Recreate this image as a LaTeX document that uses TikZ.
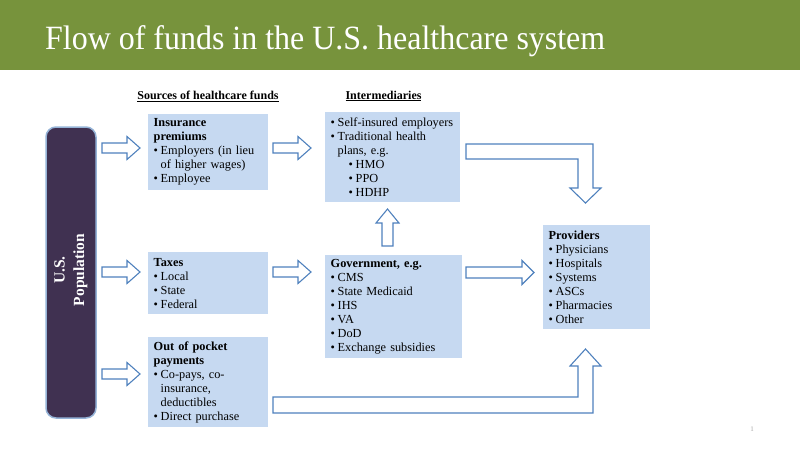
\documentclass[tikz,border=0pt]{standalone}
\usepackage{fontspec}
\setmainfont{Liberation Serif}
\newfontfamily\titlefont{Liberation Serif}[FakeStretch=0.94]
\usetikzlibrary{calc}
\definecolor{headgreen}{HTML}{77933C}
\definecolor{boxblue}{HTML}{C6D9F1}
\definecolor{arrowblue}{HTML}{4F81BD}
\definecolor{popfill}{HTML}{403151}
\definecolor{popedge}{HTML}{95B3D7}
\newcommand\bul{\makebox[7pt][l]{\textbullet}}
\newcommand\cont{\hspace*{7pt}}
\newcommand\RArrow[2]{\draw[arr] (#1,#2-5) -- (#1+25,#2-5) -- (#1+25,#2-11.5) -- (#1+38,#2) -- (#1+25,#2+11.5) -- (#1+25,#2+5) -- (#1,#2+5) -- cycle;}
\tikzset{
  fbox/.style={fill=boxblue, anchor=north west, inner xsep=5.5pt, inner ysep=0pt, align=left,
    font=\fontsize{12.3}{14}\selectfont},
  arr/.style={draw=arrowblue, fill=white, line width=1.1pt, line join=miter},
  colhead/.style={font=\bfseries\fontsize{12}{13}\selectfont, inner sep=0pt}
}
\begin{document}
\begin{tikzpicture}[x=1pt,y=-1pt]
\useasboundingbox (0,0) rectangle (800,450);
% header
\fill[headgreen] (0,0) rectangle (800,70);
\node[anchor=base west, text=white, inner sep=0pt, font=\titlefont\fontsize{34}{40}\selectfont] (title) at (45,49) {Flow of funds in the U.S. healthcare system};
% column headers
\node[colhead] (srchead) at (208,96) {\underline{Sources of healthcare funds}};
\node[colhead] (interhead) at (383.5,96) {\underline{Intermediaries}};
% population
\draw[fill=popfill, draw=popedge, line width=1.5pt, rounded corners=10pt] (46,127) rectangle (96,418);
\node[rotate=90, text=white, align=center, font=\bfseries\fontsize{15.5}{19.5}\selectfont] (pop) at (71,270) {U.S.\\Population};
% boxes
\node[fbox, minimum width=120pt, minimum height=76pt, text width=109pt] (ins) at (148,114)
 {\textbf{Insurance}\\\textbf{premiums}\\\bul Employers (in lieu\\\cont of higher wages)\\\bul Employee};
\node[fbox, minimum width=120pt, minimum height=62pt, text width=109pt] (tax) at (148,252)
 {\textbf{Taxes}\\\bul Local\\\bul State\\\bul Federal};
\node[fbox, minimum width=120pt, minimum height=90pt, text width=109pt] (oop) at (148,337)
 {\textbf{Out of pocket}\\\textbf{payments}\\\bul Co-pays, co-\\\cont insurance,\\\cont deductibles\\\bul Direct purchase};
\node[fbox, minimum width=135pt, minimum height=90pt, text width=124pt] (inter) at (325,112)
 {\bul Self-insured employers\\\bul Traditional health\\\cont plans, e.g.\\\hspace*{18pt}\bul HMO\\\hspace*{18pt}\bul PPO\\\hspace*{18pt}\bul HDHP};
\node[fbox, minimum width=137pt, minimum height=103pt, text width=126pt] (gov) at (325,255)
 {\textbf{Government, e.g.}\\\bul CMS\\\bul State Medicaid\\\bul IHS\\\bul VA\\\bul DoD\\\bul Exchange subsidies};
\node[fbox, minimum width=107pt, minimum height=104pt, text width=96pt] (prov) at (543,225)
 {\textbf{Providers}\\\bul Physicians\\\bul Hospitals\\\bul Systems\\\bul ASCs\\\bul Pharmacies\\\bul Other};
% straight arrows
\RArrow{102}{148}
\RArrow{273}{148}
\RArrow{102}{272}
\RArrow{273}{272}
\RArrow{102}{374}
% gov -> providers
\draw[arr] (466,267) -- (522,267) -- (522,260.5) -- (534,272.5) -- (522,284.5) -- (522,278) -- (466,278) -- cycle;
% gov -> intermediaries (up)
\draw[arr] (382,246) -- (382,223) -- (376,223) -- (387.5,209) -- (399,223) -- (393,223) -- (393,246) -- cycle;
% intermediaries -> providers (elbow)
\draw[arr] (466,144) -- (593,144) -- (593,188) -- (601,188) -- (585.5,203) -- (570,188) -- (578,188) -- (578,159) -- (466,159) -- cycle;
% out of pocket -> providers (elbow)
\draw[arr] (273,397) -- (578,397) -- (578,366) -- (570,366) -- (585.5,349) -- (601,366) -- (593,366) -- (593,413) -- (273,413) -- cycle;
% page number
\node[text=gray!70, font=\fontsize{7}{8}\selectfont, inner sep=0pt] (pg) at (752,429) {1};
\end{tikzpicture}
\end{document}
